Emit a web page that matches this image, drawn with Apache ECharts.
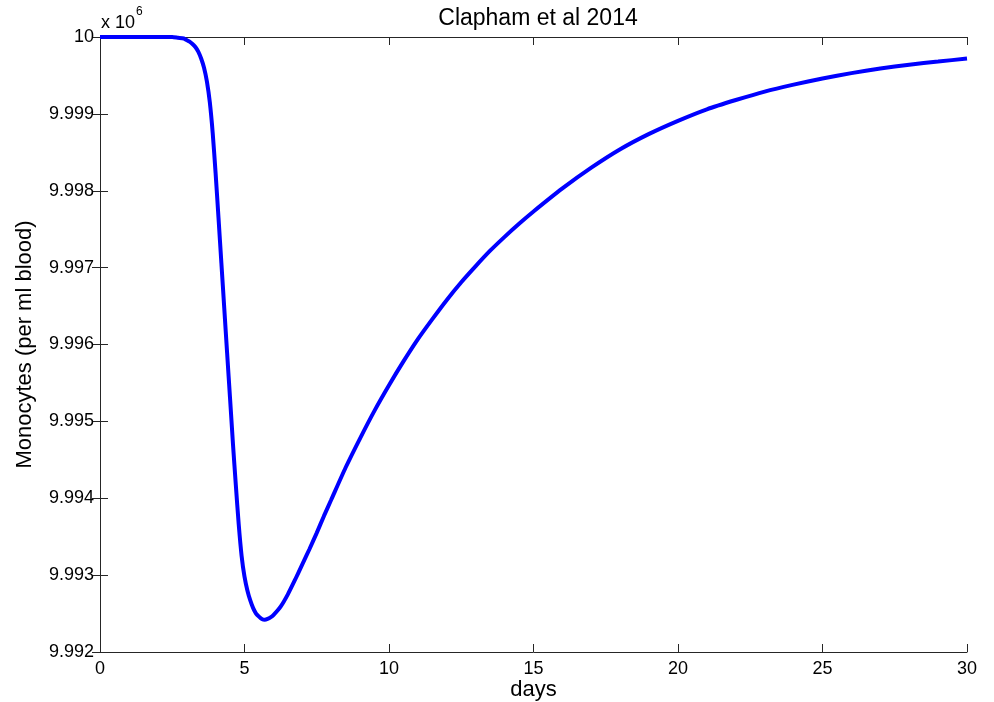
<!DOCTYPE html>
<html>
<head>
<meta charset="utf-8">
<script src="https://cdn.jsdelivr.net/npm/echarts@6/dist/echarts.min.js"></script>
<style>
  html, body { margin: 0; padding: 0; background: #ffffff; }
  #chart { width: 994px; height: 702px; }
</style>
</head>
<body>
<div id="chart"></div>
<script>
// Monocyte count over time (values in units of 10^6 per ml blood)
const days = [
  0, 1, 2, 2.5, 2.7, 2.9,
  3.0, 3.1, 3.2, 3.3, 3.4, 3.5, 3.6, 3.7, 3.8, 3.9,
  4.0, 4.1, 4.2, 4.3, 4.4, 4.5, 4.6, 4.7, 4.8, 4.9,
  5.0, 5.1, 5.2, 5.3, 5.4, 5.5, 5.6, 5.7, 5.8, 5.9,
  6.0, 6.25, 6.5, 6.75, 7.0, 7.25, 7.5, 7.75,
  8.0, 8.5, 9.0, 9.5, 10.0, 10.5, 11.0, 11.5, 12.0, 12.5, 13.0, 13.5, 14.0, 14.5,
  15, 16, 17, 18, 19, 20, 21, 22, 23, 24, 25, 26, 27, 28, 29, 30
];
const monocytes = [
  10.00000, 10.00000, 10.00000, 10.00000, 9.99999, 9.99998,
  9.99996, 9.99994, 9.99991, 9.99987, 9.99981, 9.99972, 9.99960, 9.99942, 9.99915, 9.99875,
  9.99823, 9.99765, 9.99706, 9.99647, 9.99588, 9.99530, 9.99471, 9.99417, 9.99366, 9.99325,
  9.99298, 9.99280, 9.99267, 9.99257, 9.99250, 9.99246, 9.99243, 9.99242, 9.99243, 9.99245,
  9.99248, 9.99259, 9.99275, 9.99294, 9.99314, 9.99334, 9.99355, 9.99377,
  9.99398, 9.99440, 9.99478, 9.99514, 9.99547, 9.99578, 9.99607, 9.99633, 9.99658, 9.99681,
  9.99702, 9.99722, 9.99740, 9.99757,
  9.99773, 9.99803, 9.99830, 9.99854, 9.99874, 9.99891, 9.99906, 9.99918, 9.99929, 9.99938,
  9.99946, 9.99953, 9.99959, 9.99964, 9.99968, 9.99972
];
const xTicks = [0, 5, 10, 15, 20, 25, 30];
const yTicks = [9.992, 9.993, 9.994, 9.995, 9.996, 9.997, 9.998, 9.999, 10];

const FONT = 'Liberation Sans, Arial, sans-serif';
const AXIS_COLOR = '#262626';

const chart = echarts.init(document.getElementById('chart'), null, { renderer: 'canvas' });

const baseAxisLine = { show: true, lineStyle: { color: AXIS_COLOR, width: 1 } };
const tickStyle = { show: true, inside: true, length: 8, lineStyle: { color: AXIS_COLOR, width: 1 } };

chart.setOption({
  animation: false,
  backgroundColor: '#ffffff',
  title: {
    text: 'Clapham et al 2014',
    left: 533, top: 2, textAlign: 'center',
    textStyle: { fontFamily: FONT, fontSize: 23, fontWeight: 'normal', color: '#000' }
  },
  grid: { left: 100, right: 27, top: 37, bottom: 50, containLabel: false, outerBoundsMode: 'none' },
  xAxis: [{
    type: 'value', min: xTicks[0], max: xTicks[xTicks.length - 1], interval: 5,
    position: 'bottom',
    name: 'days', nameLocation: 'middle', nameGap: 27, nameMoveOverlap: false,
    nameTextStyle: { fontFamily: FONT, fontSize: 22, color: '#000' },
    axisLine: baseAxisLine, axisTick: tickStyle,
    axisLabel: { fontFamily: FONT, fontSize: 18, color: '#000', margin: 8 },
    splitLine: { show: false }
  }, {
    type: 'value', min: xTicks[0], max: xTicks[xTicks.length - 1], interval: 5,
    position: 'top',
    axisLine: baseAxisLine, axisTick: tickStyle,
    axisLabel: { show: false }, splitLine: { show: false }
  }],
  yAxis: [{
    type: 'value', min: yTicks[0], max: yTicks[yTicks.length - 1], interval: 0.001,
    position: 'left',
    name: 'Monocytes (per ml blood)', nameLocation: 'middle', nameGap: 64, nameMoveOverlap: false,
    nameTextStyle: { fontFamily: FONT, fontSize: 22, color: '#000' },
    axisLine: baseAxisLine, axisTick: tickStyle,
    axisLabel: {
      fontFamily: FONT, fontSize: 18, color: '#000', margin: 6,
      formatter: v => (Math.abs(v - 10) < 1e-9 ? '10' : v.toFixed(3))
    },
    splitLine: { show: false }
  }, {
    type: 'value', min: yTicks[0], max: yTicks[yTicks.length - 1], interval: 0.001,
    position: 'right',
    axisLine: baseAxisLine, axisTick: tickStyle,
    axisLabel: { show: false }, splitLine: { show: false }
  }],
  graphic: [{
    type: 'text', left: 101, top: 6,
    style: {
      text: '{a|x 10}{b|6}',
      rich: {
        a: { fontFamily: FONT, fontSize: 18, fill: '#000', verticalAlign: 'bottom', lineHeight: 26 },
        b: { fontFamily: FONT, fontSize: 12, fill: '#000', verticalAlign: 'top', lineHeight: 26, padding: [0, 0, 12, 1] }
      }
    }
  }],
  series: [{
    type: 'line',
    xAxisIndex: 0, yAxisIndex: 0,
    data: days.map((d, i) => [d, monocytes[i]]),
    showSymbol: false,
    smooth: 0.2,
    lineStyle: { color: '#0000ff', width: 4 },
    clip: true
  }]
});
</script>
</body>
</html>
